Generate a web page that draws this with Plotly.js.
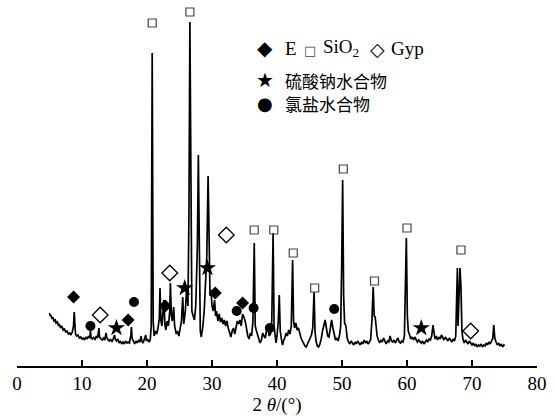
<!DOCTYPE html>
<html>
<head>
<meta charset="utf-8">
<script src="https://cdn.plot.ly/plotly-3.0.1.min.js"></script>
<style>html,body{margin:0;padding:0;background:#fff}#chart{width:555px;height:419px}</style>
</head>
<body>
<div id="chart"></div>
<script>
// XRD pattern (2θ in degrees, intensity in arbitrary units)
const twoTheta = [
5.0,5.1,5.2,5.4,5.5,5.7,5.9,6.0,6.2,6.4,6.5,6.7,6.9,7.1,7.3,7.5,7.7,7.9,8.1,8.3,8.5,8.7,8.8,8.9,9.0,9.2,9.4,9.6,9.8,
10.0,10.2,10.4,10.6,10.8,11.0,11.2,11.3,11.4,11.6,11.8,12.0,12.2,12.4,12.6,12.7,12.9,13.1,13.3,13.5,13.7,13.8,14.0,14.2,14.4,14.6,14.8,
15.0,15.1,15.3,15.5,15.7,15.9,16.1,16.3,16.5,16.7,16.9,17.1,17.3,17.5,17.6,17.7,17.9,18.1,18.3,18.5,18.7,18.9,19.1,19.2,19.4,19.6,19.8,19.9,
20.1,20.3,20.5,20.65,20.8,20.95,21.1,21.3,21.5,21.7,21.9,22.0,22.15,22.3,22.45,22.6,22.75,22.9,23.1,23.3,23.5,23.6,23.75,23.9,24.1,24.25,24.5,24.7,24.9,
25.1,25.3,25.5,25.65,25.9,26.1,26.3,26.45,26.6,26.75,26.9,27.1,27.3,27.5,27.75,27.9,28.05,28.2,28.35,28.6,28.8,29.0,29.2,29.4,29.55,29.7,29.85,
30.0,30.2,30.4,30.55,30.7,30.9,31.1,31.3,31.5,31.7,31.9,32.1,32.3,32.5,32.7,32.9,33.1,33.3,33.5,33.7,33.9,34.1,34.3,34.5,34.7,34.9,
35.1,35.3,35.5,35.7,35.9,36.1,36.3,36.5,36.65,36.8,37.0,37.2,37.4,37.6,37.8,38.0,38.2,38.4,38.6,38.8,39.0,39.2,39.4,39.55,39.7,39.85,
40.0,40.2,40.35,40.5,40.7,40.85,41.0,41.2,41.4,41.6,41.8,42.0,42.2,42.4,42.55,42.7,42.9,43.1,43.3,43.5,43.7,43.9,44.1,44.3,44.5,44.7,44.9,
45.1,45.3,45.5,45.7,45.85,46.0,46.2,46.4,46.6,46.8,47.0,47.2,47.4,47.6,47.8,48.0,48.2,48.4,48.6,48.8,49.0,49.2,49.4,49.6,49.8,49.95,
50.1,50.25,50.4,50.6,50.8,51.0,51.2,51.4,51.6,51.8,52.0,52.2,52.4,52.6,52.8,53.0,53.2,53.4,53.6,53.8,54.0,54.2,54.4,54.6,54.8,54.95,
55.1,55.25,55.4,55.6,55.8,56.0,56.2,56.4,56.6,56.8,57.0,57.2,57.4,57.6,57.8,58.0,58.2,58.4,58.6,58.8,59.0,59.2,59.4,59.6,59.75,59.9,
60.05,60.2,60.4,60.6,60.8,61.0,61.2,61.4,61.6,61.8,62.0,62.2,62.4,62.6,62.8,63.0,63.2,63.4,63.6,63.8,64.0,64.15,64.3,64.5,64.7,64.9,
65.1,65.3,65.5,65.7,65.9,66.1,66.3,66.5,66.7,66.9,67.1,67.3,67.5,67.65,67.75,67.85,68.0,68.15,68.3,68.45,68.6,68.8,69.0,69.2,69.4,69.6,69.8,
70.0,70.2,70.4,70.6,70.8,71.0,71.2,71.4,71.6,71.8,72.0,72.2,72.4,72.6,72.8,73.0,73.2,73.35,73.5,73.7,73.9,74.1,74.3,74.5,74.7,74.9,75.0
];
const intensity = [
53,50,51,47,49,45,46,43,44,40,42,38,40,36,37,34,35,32,33,31,34,40,54,40,32,30,31,28,29,
27,28,26,29,27,30,28,36,28,27,29,26,30,28,38,29,27,26,28,26,33,29,26,25,27,24,27,
31,27,25,27,23,25,22,24,22,25,23,24,23,30,39,28,24,22,25,23,26,24,30,25,23,27,31,25,
27,24,26,40,313,45,30,35,32,38,48,78,45,40,52,66,42,36,45,40,55,83,50,45,59,40,32,35,30,
38,45,69,42,55,78,60,150,344,120,55,50,46,60,120,211,80,35,29,40,55,80,110,190,95,70,76,
60,55,66,50,55,45,52,44,48,42,46,40,45,38,34,29,35,38,32,40,45,42,46,40,52,49,
45,38,30,27,33,30,45,123,40,36,32,28,23,26,33,30,28,36,39,30,32,45,133,40,28,23,
30,45,71,35,26,21,25,28,33,30,36,32,40,106,45,38,43,36,38,31,28,25,22,20,19,22,25,
28,31,38,74,35,25,20,19,22,27,35,42,46,38,30,29,37,46,38,30,26,28,25,30,40,100,
186,70,43,40,28,24,22,25,23,21,24,22,25,23,21,24,22,26,23,25,22,24,26,45,79,50,
49,40,30,26,23,26,24,28,25,22,25,24,30,25,24,26,23,25,28,24,23,25,24,30,70,128,
50,35,31,27,29,26,29,27,24,26,24,23,25,22,24,26,24,27,26,30,41,32,27,30,26,29,
27,31,28,26,29,27,25,28,26,24,27,25,30,90,98,40,70,98,80,35,27,23,26,24,22,25,23,
21,23,20,22,19,21,20,22,19,21,20,23,21,24,22,25,28,41,28,24,21,23,20,22,19,21,20
];

// Phase markers
const eX = [8.7, 17.1, 22.8, 30.5, 34.7];
const eY = [69, 46, 60, 73, 63];
const sio2X = [20.8, 26.6, 36.5, 39.5, 42.5, 45.8, 50.2, 55.0, 60.0, 68.3];
const sio2Y = [343, 354, 136, 136, 113, 78, 197, 85, 138, 116];
const gypX = [12.8, 23.5, 32.2, 69.8];
const gypY = [51, 93, 131, 35];
const sulfX = [15.3, 25.8, 29.3, 62.2];
const sulfY = [38, 78, 98, 38];
const chlX = [11.3, 18.0, 33.8, 36.4, 38.9, 48.8];
const chlY = [40, 64, 55, 58, 38, 57];

const xTicks = [0, 10, 20, 30, 40, 50, 60, 70, 80];

const serif = 'Liberation Serif, Times New Roman, serif';

const traces = [
  {x: twoTheta, y: intensity, mode: 'lines', type: 'scatter',
   line: {color: '#000', width: 1.7}, hoverinfo: 'skip'},
  {x: eX, y: eY, mode: 'markers', type: 'scatter',
   marker: {symbol: 'diamond', size: 10, color: '#000'}},
  {x: sio2X, y: sio2Y, mode: 'markers', type: 'scatter',
   marker: {symbol: 'square-open', size: 8, color: '#444', line: {width: 1.2, color: '#444'}}},
  {x: gypX, y: gypY, mode: 'markers', type: 'scatter',
   marker: {symbol: 'diamond-open', size: 12, color: '#000', line: {width: 1.3, color: '#000'}}},
  {x: sulfX, y: sulfY, mode: 'markers', type: 'scatter',
   marker: {symbol: 'star', size: 13, color: '#000'}},
  {x: chlX, y: chlY, mode: 'markers', type: 'scatter',
   marker: {symbol: 'circle', size: 10, color: '#000'}}
];

const legFont = {family: serif, size: 19, color: '#000'};
const cjkFont = {family: 'Noto Sans CJK SC, sans-serif', size: 17, color: '#000'};
const symFont = {family: 'DejaVu Sans, sans-serif', size: 20, color: '#000'};

const annotations = [
  {x: 38.15, y: 318, text: '◆', font: symFont},
  {x: 40.9, y: 318, text: 'E', font: legFont, xanchor: 'left'},
  {x: 45.1, y: 316, text: '□', font: {family: 'DejaVu Sans, sans-serif', size: 13, color: '#444'}},
  {x: 46.7, y: 318, text: 'SiO<sub>2</sub>', font: legFont, xanchor: 'left'},
  {x: 55.4, y: 317, text: '◇', font: {family: 'DejaVu Sans, sans-serif', size: 19, color: '#000'}},
  {x: 57.3, y: 318, text: 'Gyp', font: legFont, xanchor: 'left'},
  {x: 38.15, y: 286, text: '★', font: symFont},
  {x: 40.9, y: 286, text: '硫酸钠水合物', font: cjkFont, xanchor: 'left'},
  {x: 38.15, y: 263, text: '●', font: {family: 'DejaVu Sans, sans-serif', size: 18, color: '#000'}},
  {x: 40.9, y: 263, text: '氯盐水合物', font: cjkFont, xanchor: 'left'}
].map(a => Object.assign({xref: 'x', yref: 'y', showarrow: false, xanchor: 'center', yanchor: 'middle'}, a));

const layout = {
  width: 555, height: 419,
  margin: {l: 17, r: 18, t: 6, b: 53},
  paper_bgcolor: '#fff', plot_bgcolor: '#fff',
  showlegend: false,
  xaxis: {
    range: [0, 80], tickvals: xTicks, ticktext: xTicks.map(String),
    showline: true, linecolor: '#000', linewidth: 1.5,
    ticks: 'inside', ticklen: 6, tickwidth: 1.5, tickcolor: '#000',
    showgrid: false, zeroline: false,
    tickfont: {family: serif, size: 19, color: '#000'},
    title: {text: '2 <i>θ</i>/(°)', font: {family: serif, size: 19, color: '#000'}, standoff: 4}
  },
  yaxis: {range: [0, 360], visible: false, showgrid: false, zeroline: false},
  annotations: annotations
};

Plotly.newPlot('chart', traces, layout, {displayModeBar: false, staticPlot: true});
</script>
</body>
</html>
